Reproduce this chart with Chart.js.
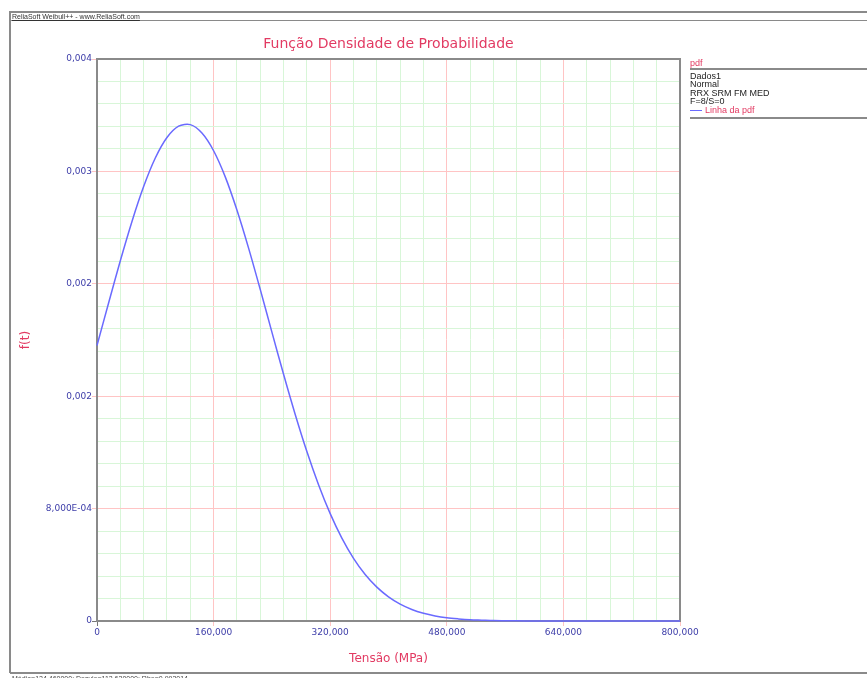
<!DOCTYPE html>
<html>
<head>
<meta charset="utf-8">
<script src="https://cdn.jsdelivr.net/npm/chart.js@4.4.1/dist/chart.umd.min.js"></script>
<style>
    body { margin: 0; background: #fff; font-family: "DejaVu Sans", sans-serif; }
    #wrap { position: relative; width: 867px; height: 678px; overflow: hidden; }
    #chart { position: absolute; left: 0; top: 0; }
    .hline { position: absolute; height: 0; border-top: 2px solid #8a8a8a; }
    .vline { position: absolute; width: 0; border-left: 2px solid #8a8a8a; }
    .txt { position: absolute; white-space: nowrap; }
    #title { left: 97px; width: 583px; top: 35px; text-align: center; font-size: 14px; color: #e23a62; }
    #header { left: 12px; top: 13px; font-size: 7px; color: #333; font-family: "Liberation Sans", sans-serif; text-decoration: underline; }
    #legend { left: 690px; top: 72px; font-size: 9px; line-height: 8.4px; color: #222; font-family: "Liberation Sans", sans-serif; }
    #legendHead { left: 690px; top: 58px; font-size: 9px; color: #e23a62; font-family: "Liberation Sans", sans-serif; }
    .swatch { display: inline-block; width: 12px; height: 0; border-top: 1.5px solid #6a6aff; vertical-align: middle; margin-right: 3px; }
    #footer { left: 12px; top: 675px; font-size: 7px; color: #444; font-family: "Liberation Sans", sans-serif; }
</style>
</head>
<body>
<div id="wrap">
    <canvas id="chart" width="867" height="678"></canvas>
    <div class="hline" style="left:10px; top:11px; width:857px;"></div>
    <div class="hline" style="left:10px; top:20px; width:857px; border-top-width:1px;"></div>
    <div class="vline" style="left:9px; top:11px; height:662px;"></div>
    <div class="hline" style="left:10px; top:672px; width:857px;"></div>
    <div class="txt" id="header">ReliaSoft Weibull++ - www.ReliaSoft.com</div>
    <div class="txt" id="title">Função Densidade de Probabilidade</div>
    <div class="txt" id="legendHead">pdf</div>
    <div class="hline" style="left:690px; top:68px; width:177px;"></div>
    <div class="txt" id="legend">
        Dados1<br>Normal<br>RRX SRM FM MED<br>F=8/S=0<br>
        <span class="swatch"></span><span style="color:#e23a62">Linha da pdf</span>
    </div>
    <div class="hline" style="left:690px; top:117px; width:177px;"></div>
    <div class="txt" id="footer">Média=124,460000; Desvio=112,620000; Rho=0,993014</div>
</div>

<script>
// tensão (MPa) e f(t)
const tensao = [0, 16000, 32000, 48000, 64000, 80000, 96000, 112000, 128000, 144000,
    160000, 176000, 192000, 208000, 224000, 240000, 256000, 272000, 288000, 304000,
    320000, 336000, 352000, 368000, 384000, 400000, 416000, 432000, 448000, 464000,
    480000, 496000, 512000, 528000, 544000, 560000, 576000, 600000, 640000, 700000, 800000];
const pdf = [0.001961, 0.002265, 0.002564, 0.002844, 0.003092, 0.003295, 0.003441, 0.003522, 0.003533, 0.003473,
    0.003347, 0.003161, 0.002925, 0.002654, 0.002360, 0.002056, 0.001756, 0.001470, 0.001206, 0.000970,
    0.000764, 0.000590, 0.000446, 0.000331, 0.000241, 0.000172, 0.000120, 0.000082, 0.000055, 0.000036,
    0.000023, 0.000015, 0.000009, 0.000006, 0.000003, 0.000002, 0.000001, 0, 0, 0, 0];

const xTickLabels = ['0', '160,000', '320,000', '480,000', '640,000', '800,000'];
const yTickLabels = ['0', '8,000E-04', '0,002', '0,002', '0,003', '0,004'];

const X_MAX = 800000, X_MAJOR = 160000, X_MINOR = 32000;
const Y_MAX = 0.004, Y_MAJOR = 0.0008, Y_MINOR = 0.00016;

const RED = '#e23a62';
const TICK_BLUE = '#3c3ca8';
const MAJOR_GRID = '#ffc4c4';
const MINOR_GRID = '#d8f6d8';

function majorIndex(v, step) {
    const k = Math.round(v / step);
    return Math.abs(v - k * step) < step * 1e-6 ? k : -1;
}

function gridTicks(max, step) {
    const out = [];
    const n = Math.round(max / step);
    for (let i = 0; i <= n; i++) out.push({ value: i * step });
    return out;
}

// cadre gris autour de la zone de tracé (sous la courbe)
const frame = {
    id: 'frame',
    beforeDatasetsDraw(chart) {
        const a = chart.chartArea, ctx = chart.ctx;
        ctx.save();
        ctx.strokeStyle = '#8a8a8a';
        ctx.lineWidth = 2;
        ctx.strokeRect(a.left, a.top, a.right - a.left, a.bottom - a.top);
        ctx.restore();
    }
};

new Chart(document.getElementById('chart'), {
    type: 'line',
    data: {
        datasets: [{
            label: 'Linha da pdf',
            data: tensao.map((t, i) => ({ x: t, y: pdf[i] })),
            borderColor: '#6a6aff',
            borderWidth: 1.5,
            pointRadius: 0,
            tension: 0.3,
            clip: 3
        }]
    },
    plugins: [frame],
    options: {
        responsive: false,
        animation: false,
        layout: { padding: { left: 0, right: 187, top: 59, bottom: 0 } },
        plugins: {
            legend: { display: false },
            tooltip: { enabled: false }
        },
        scales: {
            x: {
                type: 'linear',
                min: 0,
                max: X_MAX,
                afterFit: s => { s.height = 57; },
                afterBuildTicks: s => { s.ticks = gridTicks(X_MAX, X_MINOR); },
                grid: {
                    color: c => majorIndex(c.tick.value, X_MAJOR) >= 0 ? MAJOR_GRID : MINOR_GRID,
                    tickColor: c => c.tick.value === 0 ? '#777' : (majorIndex(c.tick.value, X_MAJOR) >= 0 ? MAJOR_GRID : 'rgba(0,0,0,0)'),
                    tickLength: 5
                },
                border: { color: '#8a8a8a', width: 2 },
                ticks: {
                    autoSkip: false,
                    maxRotation: 0,
                    padding: 1,
                    color: TICK_BLUE,
                    font: { family: 'DejaVu Sans', size: 9 },
                    callback: v => {
                        const k = majorIndex(v, X_MAJOR);
                        return k >= 0 ? xTickLabels[k] : '';
                    }
                },
                title: {
                    display: true,
                    text: 'Tensão (MPa)',
                    color: RED,
                    font: { family: 'DejaVu Sans', size: 12 },
                    padding: { top: 0, bottom: 12 }
                }
            },
            y: {
                type: 'linear',
                min: 0,
                max: Y_MAX,
                afterFit: s => { s.width = 97; },
                afterBuildTicks: s => { s.ticks = gridTicks(Y_MAX, Y_MINOR); },
                grid: {
                    color: c => majorIndex(c.tick.value, Y_MAJOR) >= 0 ? MAJOR_GRID : MINOR_GRID,
                    tickColor: c => c.tick.value === 0 ? '#777' : (majorIndex(c.tick.value, Y_MAJOR) >= 0 ? MAJOR_GRID : 'rgba(0,0,0,0)'),
                    tickLength: 5
                },
                border: { color: '#8a8a8a', width: 2 },
                ticks: {
                    autoSkip: false,
                    padding: 0,
                    color: TICK_BLUE,
                    font: { family: 'DejaVu Sans', size: 9 },
                    callback: v => {
                        const k = majorIndex(v, Y_MAJOR);
                        return k >= 0 ? yTickLabels[k] : '';
                    }
                },
                title: {
                    display: true,
                    text: 'f(t)',
                    color: RED,
                    font: { family: 'DejaVu Sans', size: 12 },
                    padding: { top: 19, bottom: 0 }
                }
            }
        }
    }
});
</script>
</body>
</html>
